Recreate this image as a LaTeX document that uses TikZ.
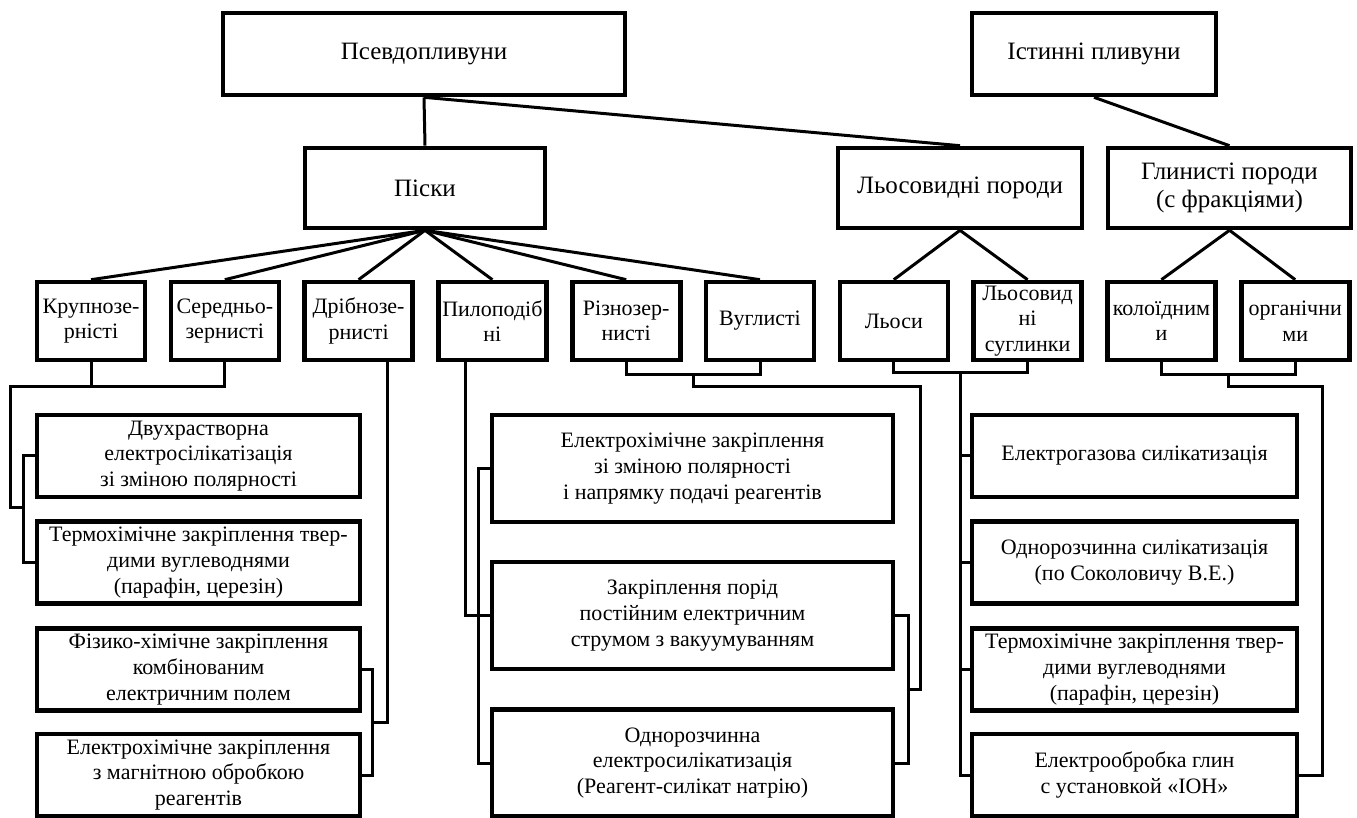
\documentclass[tikz,border=0pt]{standalone}
\usepackage{fontspec}
\setmainfont{Liberation Serif}

\begin{document}
\begin{tikzpicture}[x=0.5pt, y=-0.5pt, node distance=66.9pt, line width=1.5pt,
  box/.style={draw, line width=2.3pt, align=center, inner sep=1pt, font=\fontsize{11}{12.8}\selectfont},
  head/.style={box, font=\fontsize{12.5}{14}\selectfont},
  leaf/.style={box, minimum width=54pt, minimum height=39pt},
  lmeth/.style={box, minimum width=161.5pt, minimum height=41pt},
  mmeth/.style={box, minimum width=200.5pt, minimum height=53.5pt},
  rmeth/.style={box, minimum width=162.5pt, minimum height=41pt}]
%
\useasboundingbox (0,0) rectangle (1357,818);
%
\node (psevdo) [head, minimum width=201pt, minimum height=41pt] at (424,54) {Псевдопливуни};
\node (istyn) [head, minimum width=122pt, minimum height=41pt] at (1094,54) {Істинні пливуни};
%
\node (piski) [head, minimum width=120pt, minimum height=40pt] at (425,188) {Піски};
\node (losp) [head, minimum width=122pt, minimum height=40pt] at (960,188) {Льосовидні породи};
\node (glyn) [head, minimum width=121.5pt, minimum height=40pt] at (1229.5,188) {Глинисті породи\\(с фракціями)};
%
\node (krup) [leaf] at (91,321) {Крупнозе-\\рністі};
\node (ser) [leaf, right of=krup] {Середньо-\\зернисті};
\node (drib) [leaf, right of=ser] {Дрібнозе-\\рнисті};
\node (pyl) [leaf, right of=drib] {Пилоподіб\\ні};
\node (rizn) [leaf, right of=pyl] {Різнозер-\\нисті};
\node (vugl) [leaf, right of=rizn] {Вуглисті};
\node (lsy) [leaf, right of=vugl] {Льоси};
\node (lsug) [leaf, right of=lsy] {Льосовид\\ні\\суглинки};
\node (kol) [leaf, right of=lsug] {колоїдним\\и};
\node (org) [leaf, right of=kol] {органічни\\ми};
%
\node (m1) [lmeth] at (198.5,456) {Двухрастворна\\електросілікатізація\\зі зміною полярності};
\node (m2) [lmeth] at (198.5,562.5) {Термохімічне закріплення твер-\\дими вуглеводнями\\(парафін, церезін)};
\node (m3) [lmeth] at (198.5,669.5) {Фізико-хімічне закріплення\\комбінованим\\електричним полем};
\node (m4) [lmeth] at (198.5,775) {Електрохімічне закріплення\\з магнітною обробкою\\реагентів};
\node (m5) [mmeth] at (692.5,468.5) {Електрохімічне закріплення\\зі зміною полярності\\і напрямку подачі реагентів};
\node (m6) [mmeth] at (692.5,615.5) {Закріплення порід\\постійним електричним\\струмом з вакуумуванням};
\node (m7) [mmeth] at (692.5,763) {Однорозчинна\\електросилікатизація\\(Реагент-силікат натрію)};
\node (m8) [rmeth] at (1134.5,456) {Електрогазова силікатизація};
\node (m9) [rmeth] at (1134.5,562.5) {Однорозчинна силікатизація\\(по Соколовичу В.Е.)};
\node (m10) [rmeth] at (1134.5,669.5) {Термохімічне закріплення твер-\\дими вуглеводнями\\(парафін, церезін)};
\node (m11) [rmeth] at (1134.5,775) {Електрообробка глин\\с установкой «ІОН»};
%
\coordinate (kj) at (10,387);
\coordinate (kb) at (23,508);
\coordinate (dj) at (387,722);
\coordinate (db) at (372,722);
\coordinate (pj) at (465,615.5);
\coordinate (pb) at (478,615.5);
\coordinate (rj) at (693,375);
\coordinate (rk) at (920,387);
\coordinate (rb) at (908,690);
\coordinate (lj) at (960,373);
\coordinate (gj) at (1228,375);
\coordinate (gk) at (1322,387);
%
\path (psevdo.south) edge (piski.north);
\path (psevdo.south) edge (losp.north);
\path (istyn.south) edge (glyn.north);
%
\path (piski.south) edge (krup.north);
\path (piski.south) edge (ser.north);
\path (piski.south) edge (drib.north);
\path (piski.south) edge (pyl.north);
\path (piski.south) edge (rizn.north);
\path (piski.south) edge (vugl.north);
\path (losp.south) edge (lsy.north);
\path (losp.south) edge (lsug.north);
\path (glyn.south) edge (kol.north);
\path (glyn.south) edge (org.north);
%
\draw (krup.south) -- (krup.south |- kj);
\draw (ser.south) |- (kj) |- (kb);
\draw (m1.west) -| (kb) |- (m2.west);
\draw (drib.south -| dj) -- (dj) -- (db);
\draw (m3.east) -| (db) |- (m4.east);
%
\draw (pyl.south -| pj) -- (pj) -- (m6.west);
\draw (m5.west) -| (pb) |- (m7.west);
\draw (rizn.south) |- (rj) -| (vugl.south);
\draw (rj) |- (rk) |- (rb);
\draw (m6.east) -| (rb) |- (m7.east);
%
\draw (lsy.south) |- (lj) -| (lsug.south);
\draw (lj) |- (m11.west);
\draw (m8.west) -- (m8.west -| lj);
\draw (m9.west) -- (m9.west -| lj);
\draw (m10.west) -- (m10.west -| lj);
\draw (kol.south) |- (gj) -| (org.south);
\draw (gj) |- (gk) |- (m11.east);
\end{tikzpicture}
\end{document}
